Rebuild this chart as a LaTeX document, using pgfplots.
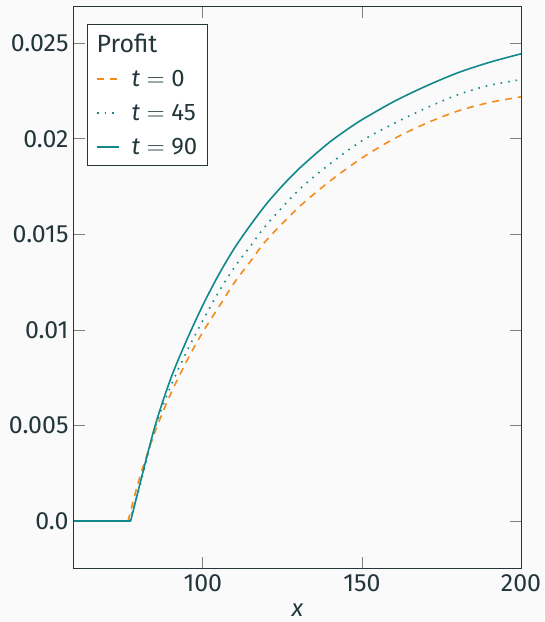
\documentclass[border=0pt]{standalone}
\usepackage{pgfplots}
\pgfplotsset{compat=1.18}
\usepackage{fontspec}
\setmainfont{Fira Sans}
\usetikzlibrary{backgrounds}
\definecolor{fg}{HTML}{23373B}
\definecolor{bg}{HTML}{FAFAFA}
\definecolor{morange}{HTML}{F28C1C}
\definecolor{mteal}{HTML}{11898A}
\begin{document}
\begin{tikzpicture}[show background rectangle, inner frame sep=0pt, background rectangle/.style={fill=bg, draw=none}]
\begin{axis}[
  name=ax,
  scale only axis, width=447bp, height=561bp,
  xmin=59.5, xmax=200, ymin=-0.00245, ymax=0.0269,
  xtick={100,150,200},
  ytick={0,0.005,0.01,0.015,0.02,0.025},
  yticklabels={0.0,0.005,0.01,0.015,0.02,0.025},
  scaled y ticks=false,
  tick align=inside, major tick length=11bp,
  axis line style={fg, line width=1bp},
  tick style={gray, line width=0.8bp},
  /pgf/number format/assume math mode=true,
  every tick label/.append style={font=\fontsize{25}{29}\selectfont, text=fg},
  yticklabel style={xshift=-2bp},
  xticklabel style={yshift=-3bp},
  xlabel={\textit{x}},
  xlabel style={font=\fontsize{24}{28}\selectfont, text=fg, yshift=-5bp},
  legend cell align=left,
  legend style={at={(0.03,0.97)}, anchor=north west, draw=fg, fill=white, line width=1bp,
    font=\fontsize{24}{28}\selectfont, text=fg, inner xsep=8bp, inner ysep=7.6bp,
    row sep=12.3bp},
  legend image code/.code={\draw[line width=1.8bp,#1] (0bp,0bp) -- (22bp,0bp);},
]
\addlegendimage{empty legend}
\addlegendentry{\hspace{-25bp}\fontsize{25}{28}\selectfont Profit}
\addlegendimage{morange, line width=1.8bp, dash pattern=on 7bp off 6bp}
\addlegendentry{\hspace{10bp}\textit{t}\;$=$\;0}
\addlegendimage{mteal, line width=1.8bp, dash pattern=on 1.8bp off 6bp}
\addlegendentry{\hspace{10bp}\textit{t}\;$=$\;45}
\addlegendimage{mteal, line width=1.8bp}
\addlegendentry{\hspace{10bp}\textit{t}\;$=$\;90}
% t = 0
\addplot[morange, line width=1.6bp, dash pattern=on 7bp off 6bp, forget plot] coordinates {(59.5,0) (76.5,0)};
\addplot[morange, line width=1.6bp, dash pattern=on 7bp off 6bp, smooth, forget plot] coordinates {
(76.5,0) (80,0.0022) (85,0.0047) (90,0.0067) (95,0.0084) (100,0.0099)
(105,0.0112) (110,0.0125) (115,0.0136) (120,0.0147) (130,0.0164) (140,0.0178)
(150,0.0190) (160,0.0200) (170,0.0208) (180,0.02145) (190,0.0219) (200,0.0222)};
% t = 45
\addplot[mteal, line width=1.6bp, dash pattern=on 1.6bp off 6bp, forget plot] coordinates {(59.5,0) (77.0,0)};
\addplot[mteal, line width=1.6bp, dash pattern=on 1.6bp off 6bp, smooth, forget plot] coordinates {
(77.0,0) (80,0.0017) (85,0.0049) (90,0.0071) (95,0.0089) (100,0.0105)
(105,0.0120) (110,0.0133) (115,0.0144) (120,0.0155) (130,0.0173) (140,0.0187)
(150,0.0199) (160,0.0208) (170,0.0216) (180,0.0223) (190,0.0228) (200,0.0231)};
% t = 90
\addplot[mteal, line width=1.6bp, forget plot] coordinates {(59.5,0) (77.3,0)};
\addplot[mteal, line width=1.6bp, smooth, forget plot] coordinates {
(77.3,0) (80,0.0018) (85,0.0050) (90,0.0075) (95,0.0095) (100,0.0113)
(105,0.0129) (110,0.0143) (115,0.0155) (120,0.0166) (125,0.01755) (130,0.0184) (135,0.01915)
(140,0.01985) (145,0.02045) (150,0.02100) (160,0.02195) (170,0.02275) (180,0.02345) (190,0.0240) (200,0.02445)};
\end{axis}
\path (ax.north west) ++(-74bp,7bp) coordinate (a);
\path (ax.south east) ++(22bp,-54bp) coordinate (b);
\end{tikzpicture}
\end{document}
